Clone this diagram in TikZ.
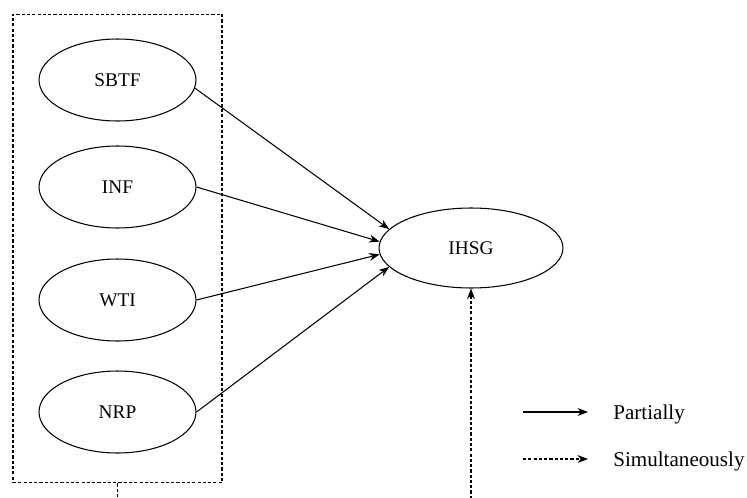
\documentclass[tikz,border=0pt]{standalone}
\usepackage{fontspec}
\setmainfont{Liberation Serif}
\usepackage{tikz}
\usetikzlibrary{
  arrows.meta,     % Stealth arrow tips
  shapes.geometric,% ellipse nodes
  positioning      % relative placement
}
\tikzset{
  var/.style={
    draw,
    ellipse,
    line width=0.6pt,
    minimum width=3.14cm,
    minimum height=1.64cm,
    font=\fontsize{11}{13}\selectfont
  },
  partial/.style={
    -{Stealth[length=6pt,width=4.5pt]},
    line width=0.6pt
  },
  simul/.style={
    -{Stealth[length=6pt,width=4.5pt]},
    line width=0.6pt,
    dash pattern=on 1.8pt off 1.2pt
  },
  group box/.style={
    draw,
    line width=0.6pt,
    dash pattern=on 1.8pt off 1.2pt,
    minimum width=4.18cm,
    minimum height=9.38cm
  },
  legend text/.style={
    anchor=west,
    inner sep=0pt,
    font=\fontsize{12}{14}\selectfont
  }
}

\begin{document}
\begin{tikzpicture}[x=0.02cm, y=-0.02cm, line join=round]
  % picture frame (pixels of the original figure)
  \clip (0,0) rectangle (747,497);

  % ===================================
  % independent variables inside the dashed box
  % ===================================
  \node[group box] (grp) at (117.5,248.5) {};

  \node[var] (SBTF) at (117.5,80)  {SBTF};
  \node[var] (INF)  at (117.5,187) {INF};
  \node[var] (WTI)  at (117.5,300) {WTI};
  \node[var] (NRP)  at (117.5,412) {NRP};

  % dependent variable
  \node[var, minimum width=3.68cm, minimum height=1.6cm] (IHSG) at (471,248) {IHSG};

  % ===================================
  % partial effects
  % ===================================
  \draw[partial] (SBTF.-6)  -- (IHSG.167);
  \draw[partial] (INF.east) -- (IHSG.176);
  \draw[partial] (WTI.east) -- (IHSG.184);
  \draw[partial] (NRP.east) -- (IHSG.193);

  % simultaneous effect (runs below the frame)
  \coordinate (low) at (117.5,520);
  \draw[simul] (grp.south) -- (low) -| (IHSG.south);

  % ===================================
  % legend
  % ===================================
  \coordinate (lp1) at (523,412);
  \coordinate (lp2) at (588,412);
  \coordinate (ls1) at (523,459);
  \coordinate (ls2) at (588,459);
  \draw[partial] (lp1) -- (lp2);
  \draw[simul]   (ls1) -- (ls2);
  \node[legend text] (tp) at (613,414) {Partially};
  \node[legend text] (ts) at (613,461) {Simultaneously};
\end{tikzpicture}
\end{document}
